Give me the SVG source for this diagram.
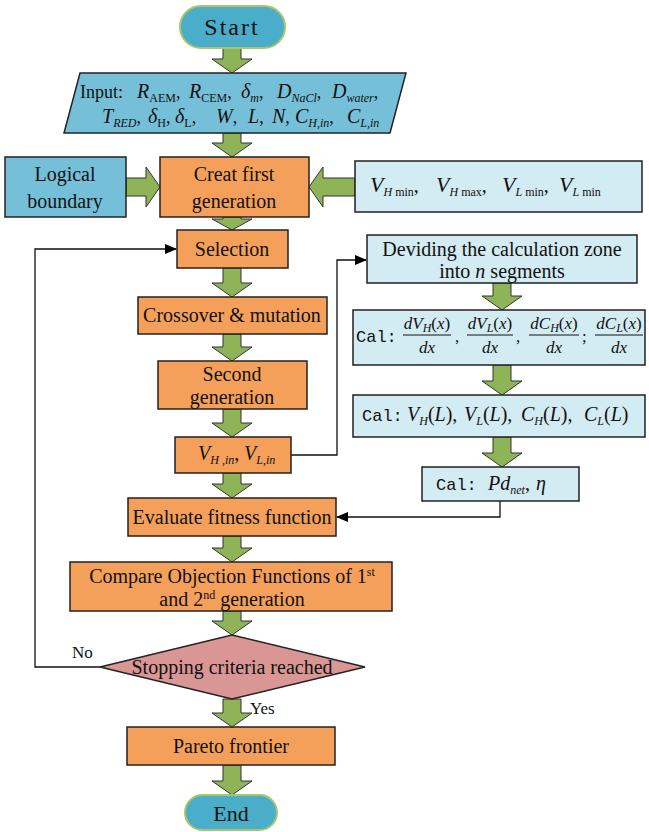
<svg xmlns="http://www.w3.org/2000/svg" width="649" height="832" viewBox="0 0 649 832">
<defs>
<marker id="ah" markerWidth="12" markerHeight="10" refX="11" refY="5" orient="auto" markerUnits="userSpaceOnUse"><path d="M0,0 L12,5 L0,10 Z" fill="#000"/></marker>
</defs>
<style>
.box{stroke:#222;stroke-width:1.5}
.or{fill:#F5A05A}
.bl{fill:#75C0D8}
.lb{fill:#D3EBF2}
.oval{fill:#4AADCA;stroke:#A8C66C;stroke-width:2}
.dia{fill:#D99694;stroke:#222;stroke-width:1.5}
.t{font-family:"Liberation Serif","Times New Roman",serif;font-size:20px;fill:#111}
.m{font-size:18px}
.c{text-anchor:middle}
.i{font-style:italic}
.sb{font-size:12px}
.ga{fill:#8FB457;stroke:#333;stroke-width:1}
.ln{fill:none;stroke:#111;stroke-width:1.3}
.mono{font-family:"Liberation Mono","Courier New",monospace;font-size:17px;fill:#111}
</style>

<g id="connectors">
<path class="ga" d="M223,48 H241 V59 H252 L232,73 L212,59 H223 Z"/>
<path class="ga" d="M223,133 H241 V143 H252 L232,157 L212,143 H223 Z"/>
<path class="ga" d="M223,217 H241 V219 H252 L232,230 L212,219 H223 Z"/>
<path class="ga" d="M223,268 H241 V283 H252 L232,297 L212,283 H223 Z"/>
<path class="ga" d="M223,334 H241 V347 H252 L232,361 L212,347 H223 Z"/>
<path class="ga" d="M223,409 H241 V423 H252 L232,437 L212,423 H223 Z"/>
<path class="ga" d="M223,473 H241 V484 H252 L232,498 L212,484 H223 Z"/>
<path class="ga" d="M223,536 H241 V548 H252 L232,562 L212,548 H223 Z"/>
<path class="ga" d="M223,611 H241 V621 H252 L232,635 L212,621 H223 Z"/>
<path class="ga" d="M223,699 H241 V713 H252 L232,727 L212,713 H223 Z"/>
<path class="ga" d="M223,765 H241 V781 H252 L232,795 L212,781 H223 Z"/>
<path class="ga" d="M493,283 H511 V296 H522 L502,310 L482,296 H493 Z"/>
<path class="ga" d="M493,365 H511 V381 H522 L502,395 L482,381 H493 Z"/>
<path class="ga" d="M493,437 H511 V453 H522 L502,467 L482,453 H493 Z"/>
<path class="ga" d="M126,178 V196 H146 V207 L160,187 L146,167 V178 Z"/>
<path class="ga" d="M355,178 V196 H323 V207 L309,187 L323,167 V178 Z"/>
<polyline class="ln" points="100,667 35,667 35,249 176,249" marker-end="url(#ah)"/>
<polyline class="ln" points="291,455 337,455 337,260 366,260" marker-end="url(#ah)"/>
<polyline class="ln" points="500,501 500,517 337,517" marker-end="url(#ah)"/>
<text class="t" x="72" y="658" style="font-size:17px">No</text>
<text class="t" x="250" y="714" style="font-size:17px">Yes</text>
</g>

<g id="start">
<rect class="oval" x="180" y="6" width="105" height="42" rx="21"/>
<text class="t c" x="232" y="35" style="font-size:24px;letter-spacing:2px">Start</text>
</g>

<g id="input">
<polygon class="box bl" points="80,73 406,73 390,133 64,133"/>
<text class="t m" y="98">
<tspan x="80">Input:</tspan>
<tspan x="137" class="i" style="font-size:20px">R</tspan><tspan class="sb" baseline-shift="-4">AEM</tspan><tspan>,</tspan>
<tspan x="189" class="i" style="font-size:20px">R</tspan><tspan class="sb" baseline-shift="-4">CEM</tspan><tspan>,</tspan>
<tspan x="241" class="i" style="font-size:20px">δ</tspan><tspan class="sb i" baseline-shift="-4">m</tspan><tspan>,</tspan>
<tspan x="277" class="i" style="font-size:20px">D</tspan><tspan class="sb i" baseline-shift="-4">NaCl</tspan><tspan>,</tspan>
<tspan x="332" class="i" style="font-size:20px">D</tspan><tspan class="sb i" baseline-shift="-4">water</tspan><tspan>,</tspan>
</text>
<text class="t m" y="123">
<tspan x="102" class="i" style="font-size:20px">T</tspan><tspan class="sb i" baseline-shift="-4">RED</tspan><tspan>,</tspan>
<tspan x="148" class="i" style="font-size:20px">δ</tspan><tspan class="sb" baseline-shift="-4">H</tspan><tspan>,</tspan>
<tspan x="175" class="i" style="font-size:20px">δ</tspan><tspan class="sb" baseline-shift="-4">L</tspan><tspan>,</tspan>
<tspan x="216" class="i" style="font-size:20px">W</tspan><tspan>,</tspan>
<tspan x="248" class="i" style="font-size:20px">L</tspan><tspan>,</tspan>
<tspan x="272" class="i" style="font-size:20px">N</tspan><tspan>,</tspan>
<tspan x="295" class="i" style="font-size:20px">C</tspan><tspan class="sb i" baseline-shift="-4">H,in</tspan><tspan>,</tspan>
<tspan x="347" class="i" style="font-size:20px">C</tspan><tspan class="sb i" baseline-shift="-4">L,in</tspan>
</text>
</g>

<g id="logical">
<rect class="box bl" x="5" y="157" width="121" height="60"/>
<text class="t c" x="65" y="181">Logical</text>
<text class="t c" x="65" y="208">boundary</text>
</g>

<g id="creat">
<rect class="box or" x="160" y="157" width="149" height="60"/>
<text class="t c" x="234" y="181">Creat first</text>
<text class="t c" x="234" y="208">generation</text>
</g>

<g id="vrange">
<rect class="box lb" x="355" y="161" width="287" height="51"/>
<text class="t" y="192">
<tspan x="370" class="i" style="font-size:22px">V</tspan><tspan class="sb" baseline-shift="-4"><tspan class="i">H</tspan> min</tspan><tspan>,</tspan>
<tspan x="436" class="i" style="font-size:22px">V</tspan><tspan class="sb" baseline-shift="-4"><tspan class="i">H</tspan> max</tspan><tspan>,</tspan>
<tspan x="502" class="i" style="font-size:22px">V</tspan><tspan class="sb" baseline-shift="-4"><tspan class="i">L</tspan> min</tspan><tspan>,</tspan>
<tspan x="559" class="i" style="font-size:22px">V</tspan><tspan class="sb" baseline-shift="-4"><tspan class="i">L</tspan> min</tspan>
</text>
</g>

<g id="selection">
<rect class="box or" x="177" y="230" width="111" height="38"/>
<text class="t c" x="232" y="256">Selection</text>
</g>

<g id="crossover">
<rect class="box or" x="138" y="297" width="189" height="37"/>
<text class="t c" x="232" y="322">Crossover &amp; mutation</text>
</g>

<g id="second">
<rect class="box or" x="158" y="361" width="149" height="48"/>
<text class="t c" x="232" y="381">Second</text>
<text class="t c" x="232" y="404">generation</text>
</g>

<g id="vin">
<rect class="box or" x="175" y="437" width="116" height="36"/>
<text class="t" y="460">
<tspan x="198" class="i">V</tspan><tspan class="sb i" baseline-shift="-4">H ,in</tspan><tspan>,</tspan>
<tspan x="244" class="i">V</tspan><tspan class="sb i" baseline-shift="-4">L,in</tspan>
</text>
</g>

<g id="evaluate">
<rect class="box or" x="128" y="498" width="208" height="38"/>
<text class="t c" x="232" y="524">Evaluate fitness function</text>
</g>

<g id="compare">
<rect class="box or" x="70" y="562" width="322" height="49"/>
<text class="t c" x="232" y="583">Compare Objection Functions of 1<tspan style="font-size:12px" baseline-shift="7">st</tspan></text>
<text class="t c" x="232" y="606">and 2<tspan style="font-size:12px" baseline-shift="7">nd</tspan> generation</text>
</g>

<g id="stopping">
<polygon class="dia" points="232,635 365,667 232,699 100,667"/>
<text class="t c" x="232" y="674">Stopping criteria reached</text>
</g>

<g id="pareto">
<rect class="box or" x="127" y="727" width="208" height="38"/>
<text class="t c" x="231" y="753">Pareto frontier</text>
</g>

<g id="end">
<rect class="oval" x="185" y="795" width="92" height="35" rx="17.5"/>
<text class="t c" x="231" y="821" style="font-size:22px">End</text>
</g>

<g id="deviding">
<rect class="box lb" x="367" y="235" width="270" height="48"/>
<text class="t c" x="502" y="256">Deviding the calculation zone</text>
<text class="t c" x="502" y="278">into <tspan class="i">n</tspan> segments</text>
</g>

<g id="cal1">
<rect class="box lb" x="353" y="310" width="292" height="55"/>
<text class="mono" x="356" y="342">Cal:</text>
<g class="t" style="font-size:17px">
<text class="c" x="427" y="329"><tspan class="i">dV</tspan><tspan class="sb i" baseline-shift="-3">H</tspan>(<tspan class="i">x</tspan>)</text>
<text class="c i" x="427" y="353">dx</text>
<text class="c" x="490" y="329"><tspan class="i">dV</tspan><tspan class="sb i" baseline-shift="-3">L</tspan>(<tspan class="i">x</tspan>)</text>
<text class="c i" x="490" y="353">dx</text>
<text class="c" x="554" y="329"><tspan class="i">dC</tspan><tspan class="sb i" baseline-shift="-3">H</tspan>(<tspan class="i">x</tspan>)</text>
<text class="c i" x="554" y="353">dx</text>
<text class="c" x="619" y="329"><tspan class="i">dC</tspan><tspan class="sb i" baseline-shift="-3">L</tspan>(<tspan class="i">x</tspan>)</text>
<text class="c i" x="619" y="353">dx</text>
<text x="455" y="342">,</text>
<text x="516" y="342">,</text>
<text x="582" y="342">;</text>
</g>
<g stroke="#111" stroke-width="1">
<line x1="403" y1="335" x2="451" y2="335"/>
<line x1="467" y1="335" x2="513" y2="335"/>
<line x1="529" y1="335" x2="579" y2="335"/>
<line x1="595" y1="335" x2="643" y2="335"/>
</g>
</g>

<g id="cal2">
<rect class="box lb" x="353" y="395" width="292" height="42"/>
<text class="mono" x="362" y="421">Cal:</text>
<text class="t" y="421">
<tspan x="407" class="i">V</tspan><tspan class="sb i" baseline-shift="-4">H</tspan><tspan>(</tspan><tspan class="i">L</tspan><tspan>),</tspan>
<tspan x="464" class="i">V</tspan><tspan class="sb i" baseline-shift="-4">L</tspan><tspan>(</tspan><tspan class="i">L</tspan><tspan>),</tspan>
<tspan x="521" class="i">C</tspan><tspan class="sb i" baseline-shift="-4">H</tspan><tspan>(</tspan><tspan class="i">L</tspan><tspan>),</tspan>
<tspan x="584" class="i">C</tspan><tspan class="sb i" baseline-shift="-4">L</tspan><tspan>(</tspan><tspan class="i">L</tspan><tspan>)</tspan>
</text>
</g>

<g id="cal3">
<rect class="box lb" x="422" y="467" width="157" height="34"/>
<text class="mono" x="436" y="490">Cal:</text>
<text class="t" y="490">
<tspan x="488" class="i">Pd</tspan><tspan class="sb i" baseline-shift="-4">net</tspan><tspan>,</tspan>
<tspan x="536" class="i">η</tspan>
</text>
</g>
</svg>
